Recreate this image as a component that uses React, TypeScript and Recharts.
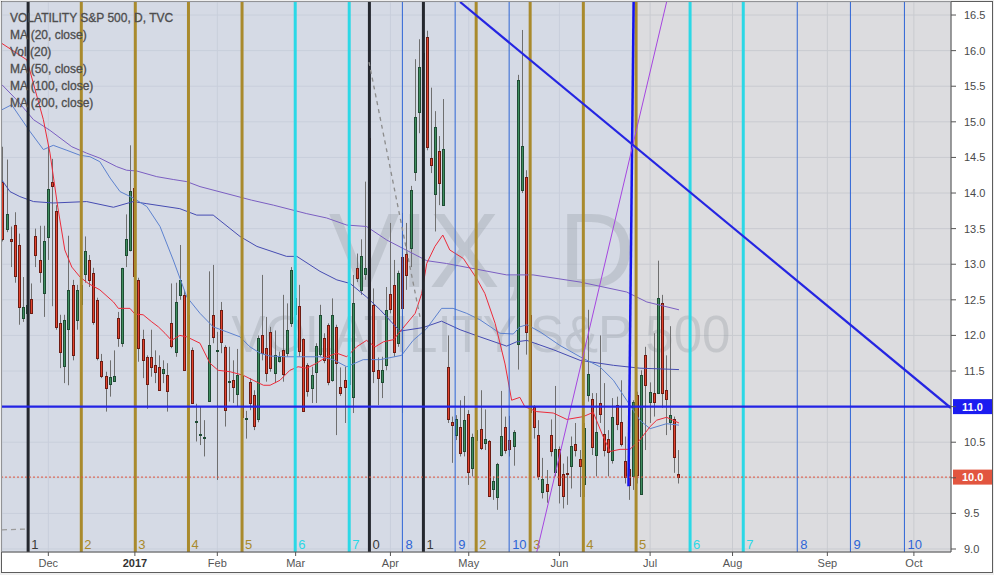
import React from 'react';
import {
  ComposedChart,
  Bar,
  Line,
  XAxis,
  YAxis,
  CartesianGrid,
  ReferenceLine,
  ReferenceArea,
} from 'recharts';

// VIX daily bars, 15 Nov 2016 .. 13 Jul 2017 (index = trading day)
const opens = [
  14.16, 13.5, 13.36, 13.55, 13.27, 12.24, 12.32, 12.51, 13.4, 13.06,
  12.59, 13.39, 14.15, 13.75, 12.18, 11.57, 12.09, 12.71, 12.22, 12.45,
  12.87, 13.06, 12.87, 12.5, 11.64, 11.43, 11.31, 11.36, 12.25, 11.88,
  13.14, 13.2, 14.07, 12.78, 11.95, 11.69, 11.69, 11.58, 11.55, 11.47,
  11.44, 12.18, 11.77, 12.57, 12.57, 12.29, 11.8, 10.78, 10.59, 10.55,
  11.08, 12.28, 11.78, 12.36, 11.84, 11.34, 11.37, 11.17, 11.43, 10.82,
  11.35, 11.16, 10.82, 12.0, 11.83, 12.05, 11.47, 11.64, 11.79, 11.76,
  12.18, 12.3, 12.42, 11.95, 11.58, 11.26, 11.48, 11.73, 11.96, 12.14,
  11.37, 12.12, 11.27, 11.37, 11.7, 11.13, 12.94, 12.63, 12.85, 14.77,
  12.43, 11.52, 11.35, 11.59, 12.58, 12.71, 11.88, 13.1, 13.15, 13.22,
  14.3, 15.14, 15.87, 16.19, 14.49, 13.99, 14.59, 13.84, 11.55, 10.79,
  10.6, 10.71, 10.37, 10.9, 10.13, 10.53, 10.69, 10.49, 10.52, 9.85,
  9.73, 10.32, 10.71, 10.53, 10.44, 11.88, 14.04, 14.22, 12.29, 11.0,
  10.6, 9.81, 9.91, 10.6, 10.09, 10.4, 10.06, 10.07, 10.17, 10.47,
  10.26, 9.91, 11.17, 11.1, 10.32, 11.05, 10.61, 10.55, 10.26, 11.02,
  10.79, 10.24, 10.12, 10.02, 11.16, 9.77, 11.72, 11.06, 11.19, 11.19,
  12.46, 11.24, 10.78, 10.83, 10.05,
];
const highs = [
  14.65, 14.47, 13.53, 13.73, 13.43, 12.82, 12.64, 12.73, 13.5, 13.54,
  13.54, 14.67, 14.48, 13.83, 12.29, 12.29, 13.4, 12.78, 12.71, 13.4,
  13.39, 13.13, 12.95, 12.53, 11.74, 11.49, 11.65, 11.79, 12.33, 12.95,
  13.7, 14.67, 14.11, 12.81, 12.08, 11.72, 12.08, 11.79, 11.72, 11.65,
  11.61, 12.73, 12.74, 13.27, 12.64, 12.33, 11.83, 11.04, 11.0, 10.81,
  12.9, 12.99, 12.05, 12.47, 11.86, 11.84, 11.65, 11.81, 11.65, 10.94,
  11.4, 11.23, 12.0, 12.85, 12.26, 12.12, 12.07, 11.77, 12.57, 12.45,
  12.96, 12.71, 12.71, 11.96, 11.61, 11.56, 11.89, 12.43, 12.03, 12.17,
  12.52, 12.15, 11.55, 11.56, 11.75, 12.85, 13.15, 13.35, 14.16, 15.12,
  12.66, 11.69, 11.7, 12.68, 13.58, 13.06, 12.91, 13.72, 13.58, 14.1,
  15.88, 16.16, 16.22, 16.28, 15.48, 15.15, 14.8, 15.32, 12.0, 10.86,
  10.88, 11.09, 11.15, 10.95, 10.62, 11.14, 11.23, 10.96, 10.53, 10.02,
  10.21, 11.22, 10.86, 10.87, 10.67, 15.66, 16.29, 14.32, 12.33, 11.02,
  10.81, 10.28, 10.11, 10.82, 11.29, 10.44, 10.2, 10.3, 10.58, 10.77,
  10.39, 10.77, 12.36, 11.19, 11.19, 12.0, 11.33, 10.67, 11.12, 11.14,
  11.37, 10.58, 10.2, 11.09, 11.21, 11.51, 11.84, 11.34, 12.03, 13.05,
  12.57, 11.72, 12.13, 10.86, 10.39,
];
const lows = [
  13.32, 13.45, 12.96, 12.74, 12.15, 12.19, 12.31, 12.3, 12.96, 12.74,
  12.26, 13.06, 12.41, 12.08, 11.54, 11.33, 11.3, 11.65, 12.08, 12.36,
  12.74, 12.68, 12.15, 11.65, 11.4, 10.93, 11.14, 11.35, 11.84, 11.84,
  12.96, 13.18, 12.78, 11.63, 11.4, 10.97, 11.42, 11.33, 11.22, 11.33,
  10.93, 11.82, 11.7, 12.5, 11.51, 11.58, 11.05, 10.51, 10.46, 10.3,
  11.07, 11.89, 9.97, 11.75, 10.72, 11.07, 11.05, 11.0, 10.74, 10.55,
  10.95, 10.67, 10.78, 11.65, 11.35, 11.49, 11.33, 11.62, 11.35, 11.7,
  12.12, 12.22, 11.7, 10.93, 11.14, 11.05, 11.05, 11.7, 11.61, 11.3,
  11.35, 10.6, 11.15, 10.77, 11.3, 10.91, 12.75, 12.57, 12.78, 12.47,
  11.33, 11.02, 11.12, 11.51, 12.31, 11.7, 11.84, 10.91, 12.64, 12.96,
  14.17, 14.84, 14.98, 14.6, 14.28, 13.46, 13.83, 13.83, 10.77, 10.21,
  10.53, 10.3, 10.3, 9.9, 10.02, 10.44, 10.39, 10.39, 9.73, 9.69,
  9.55, 10.3, 10.34, 10.3, 10.17, 11.52, 14.0, 11.73, 10.9, 10.55,
  9.97, 9.71, 9.65, 10.3, 10.02, 9.64, 9.57, 9.62, 9.85, 10.3,
  9.73, 9.73, 11.07, 10.32, 10.02, 10.77, 10.3, 10.02, 10.2, 10.67,
  10.44, 9.92, 9.69, 9.83, 9.92, 9.76, 10.39, 10.77, 10.86, 11.19,
  10.98, 10.6, 10.67, 10.07, 9.92,
];
const closes = [
  13.36, 13.71, 13.33, 12.84, 12.4, 12.4, 12.43, 12.32, 13.14, 12.89,
  13.32, 14.06, 14.1, 12.12, 11.77, 12.22, 12.64, 11.73, 12.64, 12.71,
  13.19, 12.78, 12.18, 11.69, 11.43, 11.26, 11.41, 11.43, 11.97, 12.94,
  13.36, 14.03, 12.84, 11.83, 11.65, 11.31, 11.55, 11.48, 11.23, 11.53,
  11.21, 11.85, 12.47, 12.78, 11.52, 11.76, 11.06, 10.8, 10.61, 10.57,
  11.87, 11.97, 11.8, 11.91, 10.96, 11.36, 11.27, 11.44, 10.86, 10.84,
  11.06, 10.72, 11.96, 11.75, 11.48, 11.55, 11.72, 11.69, 11.45, 12.08,
  12.92, 12.52, 11.79, 10.94, 11.22, 11.44, 11.85, 12.28, 11.65, 11.34,
  12.28, 11.62, 11.19, 11.27, 11.32, 12.45, 12.8, 13.11, 12.94, 12.5,
  11.51, 11.41, 11.52, 12.36, 12.37, 11.77, 12.87, 12.38, 12.85, 14.04,
  15.07, 15.77, 15.96, 14.65, 14.39, 14.93, 14.14, 14.62, 10.82, 10.75,
  10.83, 10.34, 10.81, 10.09, 10.57, 10.67, 10.43, 10.55, 9.75, 9.96,
  10.19, 10.59, 10.39, 10.4, 10.64, 15.59, 14.66, 12.04, 10.93, 10.72,
  10.02, 9.99, 9.81, 10.38, 10.41, 9.89, 9.75, 10.05, 10.45, 10.39,
  10.16, 10.7, 11.46, 10.42, 10.64, 10.9, 10.38, 10.37, 10.86, 10.75,
  10.48, 10.02, 9.9, 11.06, 10.03, 11.44, 11.3, 11.2, 11.07, 12.52,
  11.19, 11.11, 10.88, 10.3, 10.01,
];

// moving averages: [bar index, value]
const ma20 = [
  [-0.24, 16.1], [5.8, 15.87], [9.8, 15.03], [11.4, 14.56], [13.3, 13.8], [15.0, 13.2],
  [16.7, 12.96], [18.7, 12.82], [20.7, 12.73], [23.5, 12.64], [26.8, 12.47], [28.0, 12.38],
  [30.8, 12.38], [32.0, 12.3], [34.0, 12.29], [36.1, 12.19], [37.7, 12.12], [39.3, 12.03],
  [40.9, 11.93], [42.9, 12.0], [44.6, 11.98], [47.8, 11.89], [50.2, 11.61], [52.2, 11.51],
  [55.1, 11.49], [58.3, 11.44], [60.7, 11.37], [63.2, 11.3], [64.8, 11.3], [67.2, 11.37],
  [69.6, 11.51], [71.6, 11.56], [73.7, 11.54], [76.1, 11.61], [78.5, 11.7], [81.0, 11.75],
  [83.4, 11.7], [85.8, 11.84], [88.2, 11.93], [90.3, 11.84], [92.3, 11.91], [94.7, 11.94],
  [96.3, 12.05], [100.0, 12.31], [101.6, 12.59], [102.8, 13.01], [104.8, 13.25], [106.7, 13.41],
  [108.4, 13.2], [111.7, 13.08], [114.9, 12.8], [116.9, 12.59], [119.4, 12.17], [121.8, 11.6],
  [123.4, 11.09], [125.4, 11.13], [126.6, 11.0], [129.5, 10.93], [133.5, 10.91], [136.8, 10.82],
  [140.8, 10.86], [143.2, 10.92], [145.6, 10.58], [147.3, 10.37], [149.7, 10.4], [152.1, 10.4],
  [154.5, 10.53], [157.0, 10.72], [158.6, 10.81], [161.0, 10.85], [164.0, 10.77],
];
const ma50 = [
  [-0.24, 15.17], [2.1, 15.24], [4.1, 15.07], [6.6, 14.86], [9.8, 14.61], [12.2, 14.67],
  [15.5, 14.6], [18.7, 14.53], [21.1, 14.51], [23.5, 14.44], [26.0, 14.21], [28.4, 14.02],
  [31.6, 13.93], [34.9, 13.81], [38.1, 13.53], [41.3, 13.06], [44.6, 12.54], [47.8, 12.31],
  [51.0, 12.12], [54.3, 12.05], [57.5, 11.98], [59.9, 11.84], [62.4, 11.75], [64.8, 11.71],
  [68.8, 11.7], [72.1, 11.7], [76.9, 11.7], [80.1, 11.66], [83.4, 11.56], [87.4, 11.66],
  [91.5, 11.66], [96.7, 11.72], [99.5, 11.93], [102.7, 12.09], [106.4, 12.38], [109.2, 12.38],
  [112.5, 12.31], [115.7, 12.22], [120.6, 12.03], [123.8, 12.02], [125.4, 12.12], [127.1, 12.15],
  [130.3, 12.05], [135.1, 11.86], [140.0, 11.7], [144.8, 11.56], [148.1, 11.37], [151.3, 11.09],
  [154.5, 10.81], [157.0, 10.69], [161.0, 10.76], [164.0, 10.74],
];
const ma100 = [
  [-0.24, 14.18], [1.7, 14.02], [4.1, 13.95], [7.4, 13.88], [12.2, 13.86], [20.3, 13.88],
  [26.8, 13.8], [31.6, 13.88], [34.9, 13.85], [42.9, 13.78], [47.0, 13.69], [51.0, 13.69],
  [57.5, 13.39], [61.6, 13.25], [68.8, 13.11], [71.3, 13.11], [76.9, 12.9], [81.0, 12.78],
  [84.2, 12.73], [88.2, 12.54], [91.5, 12.36], [96.3, 12.06], [101.9, 12.11], [106.4, 12.2],
  [110.9, 12.08], [115.7, 11.98], [122.2, 11.85], [124.6, 11.91], [127.1, 11.93], [133.5, 11.8],
  [140.0, 11.65], [148.1, 11.58], [154.5, 11.54], [164.0, 11.52],
];
const ma200 = [
  [-0.24, 15.52], [3.3, 15.31], [7.4, 15.03], [11.4, 14.88], [16.7, 14.65], [20.3, 14.56],
  [23.5, 14.49], [27.6, 14.37], [30.0, 14.32], [32.4, 14.31], [37.3, 14.23], [41.3, 14.19],
  [44.6, 14.16], [47.8, 14.09], [60.3, 13.9], [65.6, 13.83], [73.7, 13.71], [78.5, 13.65],
  [83.4, 13.55], [88.2, 13.53], [93.1, 13.34], [97.1, 13.22], [102.8, 13.05], [107.6, 13.01],
  [122.2, 12.85], [128.6, 12.85], [140.0, 12.75], [151.3, 12.61], [156.2, 12.47], [164.0, 12.36],
];

const monthTicks = [11, 32, 52, 71, 94, 113, 135, 157, 177, 200, 221];
const monthNames = ['Dec', '2017', 'Feb', 'Mar', 'Apr', 'May', 'Jun', 'Jul', 'Aug', 'Sep', 'Oct'];
const priceTicks = [9, 9.5, 10, 10.5, 11, 11.5, 12, 12.5, 13, 13.5, 14, 14.5, 15, 15.5, 16, 16.5];

// time-cycle markers
const cycleBars = [6.1, 19, 32.1, 45, 58, 70.9, 84, 88.9, 96.9, 102, 109.7, 114.8, 122.8, 127.9, 140.8, 153.6, 166.7, 179.6, 192.7, 205.6, 218.7];
const cycleTags = ['1', '2', '3', '4', '5', '6', '7', '0', '8', '1', '9', '2', '10', '3', '4', '5', '6', '7', '8', '9', '10'];
const cycleKinds = ['black', 'gold', 'gold', 'gold', 'gold', 'cyan', 'cyan', 'black', 'blue', 'black', 'blue', 'gold', 'blue', 'gold', 'gold', 'gold', 'cyan', 'cyan', 'blue', 'blue', 'blue'];

// drawings
const supportLevel = 11.0;
const downTrend = [[110.9, 16.683], [230, 10.98]];
const upTrend = [[129.5, 8.958], [161.0, 16.683]];
const dashedTrend = [[88.8, 15.84], [101.2, 12.25]];
const oldDashed = [[-0.24, 9.27], [5.8, 9.28]];
const markerLine = [[153.0, 16.683], [151.75, 9.88]];
const shadedUntil = 153.6;

const X_DOMAIN = [-0.24, 230];
const Y_DOMAIN = [8.958, 16.683];

const KIND_COLOR: Record<string, string> = { black: '#24272e', gold: '#a98a2c', cyan: '#2bd8e6', blue: '#2e65d6' };
const KIND_WIDTH: Record<string, number> = { black: 3, gold: 3, cyan: 3, blue: 1 };
const KIND_TEXT: Record<string, string> = { black: '#3a3a3a', gold: '#a98a2c', cyan: '#2bd8e6', blue: '#2e65d6' };

const FONT = '"Liberation Sans", Arial, sans-serif';

const candles = closes.map((c, i) => ({ i, o: opens[i], h: highs[i], l: lows[i], c }));
const toPts = (arr: number[][]) => arr.map(([i, v]) => ({ i, v }));
const lastClose = closes[closes.length - 1];
const boxedPrices = [supportLevel.toFixed(1), lastClose.toFixed(1)];

function Candle(props: any) {
  const { x, y, width, height, payload } = props;
  if (x == null || y == null) return null;
  const { o, h, l, c } = payload;
  const k = h > l ? height / (h - l) : 0;
  const col = Math.floor(x + width / 2);
  const yo = y + (h - o) * k;
  const yc = y + (h - c) * k;
  const up = c >= o;
  const top = Math.round(Math.min(yo, yc)) + 0.5;
  const bh = Math.max(Math.round(Math.abs(yc - yo)), 1);
  return (
    <g>
      <line x1={col + 0.5} x2={col + 0.5} y1={y} y2={y + height} stroke="#6f6f6f" strokeWidth={1} />
      <rect
        x={col - 0.5}
        y={top}
        width={2}
        height={bh}
        fill={up ? '#3f8d5e' : '#e2432e'}
        stroke={up ? '#1f4c34' : '#6d1c13'}
        strokeWidth={1}
      />
    </g>
  );
}

function MonthTick(props: any) {
  const { x, y, payload } = props;
  const name = monthNames[monthTicks.indexOf(payload.value)];
  const bold = name === '2017';
  return (
    <text x={x} y={y} dy={9} textAnchor="middle" fontSize={11} fontFamily={FONT}
      fill={bold ? '#333' : '#555'} fontWeight={bold ? 'bold' : 'normal'}>
      {name}
    </text>
  );
}

function PriceTick(props: any) {
  const { x, y, payload } = props;
  const label = payload.value.toFixed(1);
  // the boxed price labels sit on top of these ticks
  if (boxedPrices.includes(label)) return null;
  return (
    <text x={x} y={y} dy={4} textAnchor="start" fontSize={11} fontFamily={FONT} fill="#4a4a4a">
      {label}
    </text>
  );
}

function priceBox(text: string, fill: string) {
  return (p: any) => {
    const vb = p.viewBox;
    const right = vb.x + vb.width;
    return (
      <g>
        <rect x={right + 2} y={vb.y - 7.5} width={39} height={15} fill={fill} />
        <text x={right + 11} y={vb.y + 4} fontSize={11} fontWeight="bold" fontFamily={FONT} fill="#fff">
          {text}
        </text>
      </g>
    );
  };
}

function cycleLabel(text: string, color: string) {
  return (p: any) => {
    const vb = p.viewBox;
    return (
      <text x={vb.x + 3} y={vb.y + vb.height - 3} fontSize={13} fontFamily={FONT} fill={color}>
        {text}
      </text>
    );
  };
}

function watermark(p: any) {
  const vb = p.viewBox;
  const cx = vb.x + 478;
  return (
    <g fill="#8e949d" fillOpacity={0.3} fontFamily={FONT}>
      <text x={cx + 2} y={vb.y + 285} fontSize={106} textAnchor="middle">VIX, D</text>
      <text x={cx + 1} y={vb.y + 350} fontSize={51} textAnchor="middle">VOLATILITY S&amp;P 500</text>
    </g>
  );
}

const seg = (arr: number[][]) => arr.map(([x, y]) => ({ x, y }));

const legendLines = ['VOLATILITY S&P 500, D, TVC', 'MA (20, close)', 'Vol (20)', 'MA (50, close)', 'MA (100, close)', 'MA (200, close)'];

export default function App() {
  return (
    <div style={{ position: 'absolute', left: 0, top: 0, width: 994, height: 575, background: '#efefef' }}>
      <div style={{ position: 'absolute', left: 1, top: 1, width: 992, height: 572, boxSizing: 'border-box', border: '1px solid #5d5d5d', background: '#fff' }} />
      <div style={{ position: 'absolute', left: 0, top: 0 }}>
        <ComposedChart
          width={994}
          height={575}
          data={candles}
          margin={{ top: 2, right: 0, bottom: 0, left: 2 }}
          style={{ fontFamily: FONT }}
        >
          <CartesianGrid stroke="#c9cbd0" fill="#dcdcdf" />
          <XAxis
            type="number"
            dataKey="i"
            domain={X_DOMAIN}
            allowDataOverflow
            ticks={monthTicks}
            interval={0}
            height={23}
            tickSize={4}
            tickMargin={2}
            tick={<MonthTick />}
            axisLine={{ stroke: '#555' }}
            tickLine={{ stroke: '#555' }}
          />
          <YAxis
            type="number"
            orientation="right"
            domain={Y_DOMAIN}
            allowDataOverflow
            ticks={priceTicks}
            interval={0}
            width={43}
            tickSize={5}
            tickMargin={8}
            tick={<PriceTick />}
            axisLine={{ stroke: '#555' }}
            tickLine={{ stroke: '#555' }}
          />
          <ReferenceArea x1={X_DOMAIN[0]} x2={shadedUntil} y1={Y_DOMAIN[0]} y2={Y_DOMAIN[1]} fill="#c8d8f2" fillOpacity={0.32} stroke="none" />
          <ReferenceArea x1={X_DOMAIN[0]} x2={X_DOMAIN[1]} y1={Y_DOMAIN[0]} y2={Y_DOMAIN[1]} fill="none" stroke="none" label={watermark} />

          <Line data={toPts(ma200)} dataKey="v" type="linear" stroke="#7b5fc2" strokeWidth={1} dot={false} isAnimationActive={false} />
          <Line data={toPts(ma100)} dataKey="v" type="linear" stroke="#464cb2" strokeWidth={1} dot={false} isAnimationActive={false} />
          <Line data={toPts(ma50)} dataKey="v" type="linear" stroke="#5d82cf" strokeWidth={1} dot={false} isAnimationActive={false} />
          <Line data={toPts(ma20)} dataKey="v" type="linear" stroke="#ec2b3a" strokeWidth={1} dot={false} isAnimationActive={false} />

          <Bar dataKey={(d: any) => [d.l, d.h]} barSize={4} shape={<Candle />} isAnimationActive={false} />

          {cycleBars.map((b, k) => (
            <ReferenceLine
              key={'c' + k}
              x={b}
              stroke={KIND_COLOR[cycleKinds[k]]}
              strokeWidth={KIND_WIDTH[cycleKinds[k]]}
              label={cycleLabel(cycleTags[k], KIND_TEXT[cycleKinds[k]])}
            />
          ))}

          <ReferenceLine segment={seg(markerLine)} stroke="#1414ee" strokeWidth={2.5} ifOverflow="hidden" />
          <ReferenceLine segment={seg(dashedTrend)} stroke="#8c8c8c" strokeWidth={1.3} strokeDasharray="4 4" ifOverflow="hidden" />
          <ReferenceLine segment={seg(oldDashed)} stroke="#9c9c9c" strokeWidth={1.3} strokeDasharray="5 4" ifOverflow="hidden" />
          <ReferenceLine segment={seg(upTrend)} stroke="#a646e0" strokeWidth={1} ifOverflow="hidden" />
          <ReferenceLine segment={seg(downTrend)} stroke="#2525e2" strokeWidth={2.2} ifOverflow="hidden" />
          <ReferenceLine
            y={lastClose}
            stroke="#e0533c"
            strokeWidth={1}
            strokeDasharray="2 2"
            label={priceBox(lastClose.toFixed(1), '#e2553f')}
          />
          <ReferenceLine
            y={supportLevel}
            stroke="#2323e4"
            strokeWidth={2.4}
            label={priceBox(supportLevel.toFixed(1), '#1c1cf0')}
          />
        </ComposedChart>
      </div>
      <div style={{ position: 'absolute', left: 10, top: 10, fontFamily: FONT, fontSize: 12, color: '#4d4d4d', lineHeight: '17px', pointerEvents: 'none', WebkitTextStroke: '0.3px #4d4d4d' }}>
        {legendLines.map((t) => (
          <div key={t} style={{ whiteSpace: 'nowrap' }}>{t}</div>
        ))}
      </div>
    </div>
  );
}
